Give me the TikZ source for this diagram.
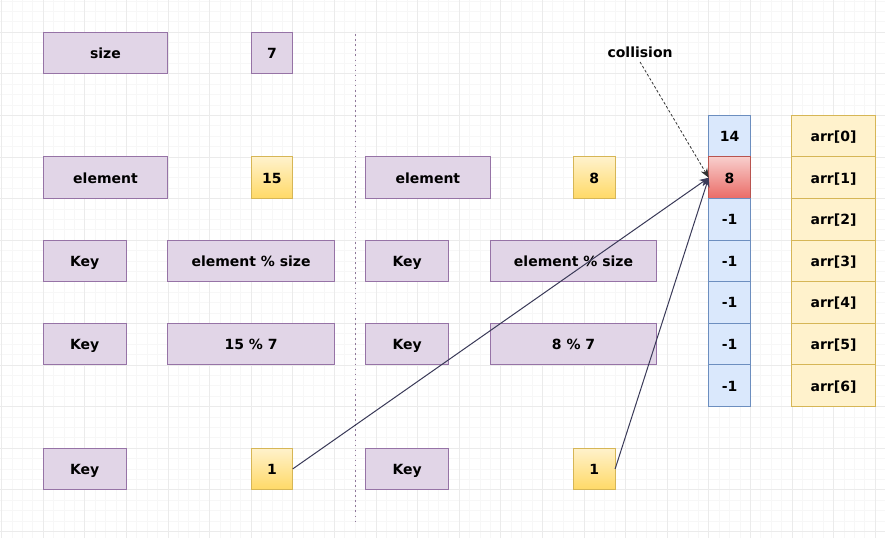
\documentclass[tikz,border=0pt]{standalone}
\usepackage{fontspec}
\setmainfont{DejaVu Sans}
\usetikzlibrary{positioning,arrows.meta}
\definecolor{purpfill}{HTML}{E1D5E7}
\definecolor{purpline}{HTML}{9673A6}
\definecolor{yeltop}{HTML}{FFF2CC}
\definecolor{yelbot}{HTML}{FFD966}
\definecolor{yelline}{HTML}{D6B656}
\definecolor{bluefill}{HTML}{DAE8FC}
\definecolor{blueline}{HTML}{6C8EBF}
\definecolor{redtop}{HTML}{F8CECC}
\definecolor{redbot}{HTML}{EA6B66}
\definecolor{redline}{HTML}{B85450}
\definecolor{linkcol}{HTML}{3A3A58}
\definecolor{gridminor}{HTML}{F7F7F7}
\definecolor{gridmajor}{HTML}{EBEBEB}
\begin{document}
\begin{tikzpicture}[
	x=0.78pt, y=-0.78pt,
	font=\fontsize{10.5}{12}\selectfont\bfseries,
	box/.style={draw, line width=0.7pt, inner sep=0pt, outer sep=0pt, minimum height=31.2pt, text height=8.2pt, text depth=0pt},
	namebox/.style={box, draw=purpline, fill=purpfill},
	valbox/.style={box, draw=yelline, top color=yeltop, bottom color=yelbot, minimum width=31.2pt},
	slot/.style={box, draw=blueline, fill=bluefill, minimum width=31.2pt},
	hitslot/.style={box, draw=redline, top color=redtop, bottom color=redbot, minimum width=31.2pt},
	idxbox/.style={box, draw=yelline, fill=yeltop, minimum width=62.4pt},
	w3/.style={minimum width=93.6pt},
	w2/.style={minimum width=62.4pt},
	w4/.style={minimum width=124.8pt},
	w1/.style={minimum width=31.2pt},
	link/.style={draw=linkcol, line width=0.75pt, -{Stealth[length=7pt,width=5.5pt]}},
	]
\useasboundingbox (-1.44,9.13) rectangle (849.5,526.4);
\fill[white] (-1.44,9.13) rectangle (849.5,526.4);
\draw[gridminor, line width=0.5pt, step=7.8pt] (-1.44,9.13) grid (849.5,526.4);
\draw[gridmajor, line width=0.5pt, step=31.2pt] (-1.44,9.13) grid (849.5,526.4);
\node [namebox, w3] (size) at (100,60) {size};
\node [namebox, w1] (sizeval) at (260,60) {7};
\node [namebox, w3] (elemA) at (100,180) {element};
\node [valbox] (valA) at (260,180) {15};
\node [namebox, w2] (keyA) at (80,260) {Key};
\node [namebox, w4] (formA) at (240,260) {element \% size};
\node [namebox, w2] (keyB) at (80,340) {Key};
\node [namebox, w4] (calcA) at (240,340) {15 \% 7};
\node [namebox, w2] (keyC) at (80,460) {Key};
\node [valbox] (resA) at (260,460) {1};
\coordinate (sepTop) at (340,42);
\coordinate (sepBot) at (340,511);
\draw [draw=purpline!70!gray, line width=0.8pt, dash pattern=on 1.2pt off 2.6pt] (sepTop) -- (sepBot);
\node [namebox, w3] (elemB) at (410,180) {element};
\node [valbox] (valB) at (570,180) {8};
\node [namebox, w2] (keyD) at (390,260) {Key};
\node [namebox, w4] (formB) at (550,260) {element \% size};
\node [namebox, w2] (keyE) at (390,340) {Key};
\node [namebox, w4] (calcB) at (550,340) {8 \% 7};
\node [namebox, w2] (keyF) at (390,460) {Key};
\node [valbox] (resB) at (570,460) {1};
\node [slot] (s0) at (700,140) {14};
\node [hitslot, below=0pt of s0] (s1) {8};
\node [slot, below=0pt of s1] (s2) {-1};
\node [slot, below=0pt of s2] (s3) {-1};
\node [slot, below=0pt of s3] (s4) {-1};
\node [slot, below=0pt of s4] (s5) {-1};
\node [slot, below=0pt of s5] (s6) {-1};
\foreach \i in {0,...,6} {
	\node [idxbox] (arr\i) at (800,140+40*\i) {arr[\i]};
}
\node (coll) at (614,59) {collision};
\draw [link] (resA.east) -- (s1.west);
\draw [link] (resB.east) -- (s1.west);
\draw [link, draw=black!80, line width=0.6pt, dash pattern=on 2pt off 1.5pt] (coll.south) -- (s1.west);
\end{tikzpicture}
\end{document}
